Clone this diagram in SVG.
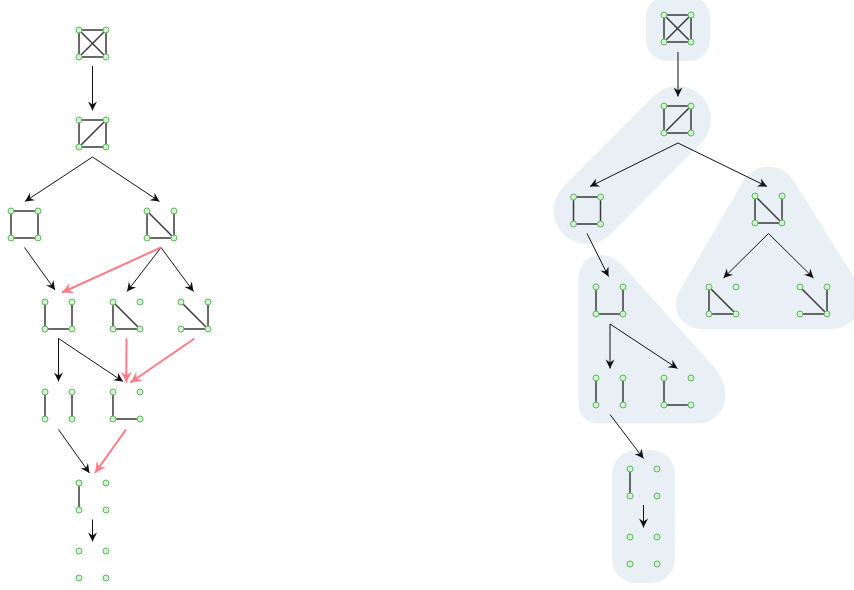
<svg xmlns="http://www.w3.org/2000/svg" width="854" height="590" viewBox="0 0 854 590">
<style>
.e{stroke:#3a3a3a;stroke-width:1.5;fill:none}
.v{fill:#d6f0d6;stroke:#5cb85c;stroke-width:1}
.a{stroke:#111;stroke-width:1;fill:none}
.r{stroke:#ff7b87;stroke-width:2;fill:none}
.blob{fill:#e9f0f5;stroke:none}
</style>
<defs>
<marker id="ab" viewBox="-10 -5 11 10" refX="0" refY="0" markerWidth="11" markerHeight="10" orient="auto" markerUnits="userSpaceOnUse">
<path d="M0,0 L-9,-4.5 L-6,0 L-9,4.5 Z" fill="#111"/>
</marker>
<marker id="ar" viewBox="-12 -6 13 12" refX="0" refY="0" markerWidth="13" markerHeight="12" orient="auto" markerUnits="userSpaceOnUse">
<path d="M0,0 L-11,-5.5 L-7,0 L-11,5.5 Z" fill="#ff7b87"/>
</marker>
<g id="vx">
<circle class="v" cx="0" cy="0" r="3"/>
<circle class="v" cx="27" cy="0" r="3"/>
<circle class="v" cx="0" cy="27" r="3"/>
<circle class="v" cx="27" cy="27" r="3"/>
</g>
</defs>

<g id="blobs">
<rect class="blob" x="646" y="-4" width="64" height="65" rx="21"/>
<line x1="677.5" y1="119.5" x2="587" y2="210.5" stroke="#e9f0f5" stroke-width="67" stroke-linecap="round"/>
<path class="blob" d="M743.8 180 C 755 162, 783 162, 794.6 182 L 857 282 C 866 300, 858 329, 832 329 L 703 329 C 678 329, 670 305, 680 290 Z"/>
<path class="blob" d="M578.3 280 C 578.3 262, 590 255, 600 255 C 610 255, 617 260, 625 268 L 714 367 C 728 383, 730 405, 715 417 C 710 421, 705 423.3, 698 423.3 L 598 423.3 C 586 423.3, 578.3 415, 578.3 403 Z"/>
<rect class="blob" x="612" y="450" width="63" height="133" rx="24"/>
</g>

<g id="connectors">
<line class="a" x1="92.5" y1="66" x2="92.5" y2="110.5" marker-end="url(#ab)"/>
<line class="a" x1="92.5" y1="157" x2="25" y2="201.5" marker-end="url(#ab)"/>
<line class="a" x1="92.5" y1="157" x2="159.5" y2="201.5" marker-end="url(#ab)"/>
<line class="a" x1="24.5" y1="247.5" x2="55" y2="290" marker-end="url(#ab)"/>
<line class="a" x1="161" y1="247.5" x2="127" y2="291.5" marker-end="url(#ab)"/>
<line class="a" x1="161" y1="247.5" x2="193.5" y2="291.5" marker-end="url(#ab)"/>
<line class="a" x1="58.5" y1="338.5" x2="58.5" y2="381.5" marker-end="url(#ab)"/>
<line class="a" x1="58.5" y1="338.5" x2="123" y2="381.5" marker-end="url(#ab)"/>
<line class="a" x1="58.5" y1="429.5" x2="89.5" y2="473" marker-end="url(#ab)"/>
<line class="a" x1="92.5" y1="519.5" x2="92.5" y2="541.5" marker-end="url(#ab)"/>
<line class="r" x1="161" y1="247.5" x2="62" y2="292.5" marker-end="url(#ar)"/>
<line class="r" x1="126.5" y1="338.5" x2="126.3" y2="382.5" marker-end="url(#ar)"/>
<line class="r" x1="194.5" y1="338.5" x2="130.5" y2="382.5" marker-end="url(#ar)"/>
<line class="r" x1="126" y1="429.5" x2="95" y2="473" marker-end="url(#ar)"/>

<line class="a" x1="678" y1="52" x2="678" y2="96.5" marker-end="url(#ab)"/>
<line class="a" x1="678" y1="143" x2="590" y2="186.5" marker-end="url(#ab)"/>
<line class="a" x1="678" y1="143" x2="767" y2="186.5" marker-end="url(#ab)"/>
<line class="a" x1="587" y1="233.5" x2="608.5" y2="276.5" marker-end="url(#ab)"/>
<line class="a" x1="768.5" y1="233.5" x2="723.5" y2="278" marker-end="url(#ab)"/>
<line class="a" x1="768.5" y1="233.5" x2="813.5" y2="278" marker-end="url(#ab)"/>
<line class="a" x1="610" y1="324" x2="610" y2="368.5" marker-end="url(#ab)"/>
<line class="a" x1="610" y1="324" x2="677.5" y2="368.5" marker-end="url(#ab)"/>
<line class="a" x1="610" y1="414.5" x2="643.5" y2="458.5" marker-end="url(#ab)"/>
<line class="a" x1="643.5" y1="505" x2="643.5" y2="527.5" marker-end="url(#ab)"/>
</g>

<g id="L1" transform="translate(79,30)"><path class="e" d="M0,0H27V27H0Z M0,0L27,27 M27,0L0,27"/><use href="#vx"/></g>
<g id="L2" transform="translate(79,120)"><path class="e" d="M0,0H27V27H0Z M0,27L27,0"/><use href="#vx"/></g>
<g id="L3" transform="translate(11,211)"><path class="e" d="M0,0H27V27H0Z"/><use href="#vx"/></g>
<g id="L4" transform="translate(147,211)"><path class="e" d="M0,0V27H27V0 M0,0L27,27"/><use href="#vx"/></g>
<g id="L5" transform="translate(45,302)"><path class="e" d="M0,0V27H27V0"/><use href="#vx"/></g>
<g id="L6" transform="translate(113,302)"><path class="e" d="M0,0V27H27Z"/><use href="#vx"/></g>
<g id="L7" transform="translate(181,302)"><path class="e" d="M0,0L27,27V0 M0,27H27"/><use href="#vx"/></g>
<g id="L8" transform="translate(45,392)"><path class="e" d="M0,0V27 M27,0V27"/><use href="#vx"/></g>
<g id="L9" transform="translate(113,392)"><path class="e" d="M0,0V27H27"/><use href="#vx"/></g>
<g id="L10" transform="translate(79,483)"><path class="e" d="M0,0V27"/><use href="#vx"/></g>
<g id="L11" transform="translate(79,551)"><use href="#vx"/></g>

<g id="R1" transform="translate(664,15)"><path class="e" d="M0,0H27V27H0Z M0,0L27,27 M27,0L0,27"/><use href="#vx"/></g>
<g id="R2" transform="translate(664,106)"><path class="e" d="M0,0H27V27H0Z M0,27L27,0"/><use href="#vx"/></g>
<g id="R3" transform="translate(573.5,197)"><path class="e" d="M0,0H27V27H0Z"/><use href="#vx"/></g>
<g id="R4" transform="translate(755,196)"><path class="e" d="M0,0V27H27V0 M0,0L27,27"/><use href="#vx"/></g>
<g id="R5" transform="translate(596,287)"><path class="e" d="M0,0V27H27V0"/><use href="#vx"/></g>
<g id="R6" transform="translate(709,287)"><path class="e" d="M0,0V27H27Z"/><use href="#vx"/></g>
<g id="R7" transform="translate(800,287)"><path class="e" d="M0,0L27,27V0 M0,27H27"/><use href="#vx"/></g>
<g id="R8" transform="translate(596,378)"><path class="e" d="M0,0V27 M27,0V27"/><use href="#vx"/></g>
<g id="R9" transform="translate(664,378)"><path class="e" d="M0,0V27H27"/><use href="#vx"/></g>
<g id="R10" transform="translate(630,469)"><path class="e" d="M0,0V27"/><use href="#vx"/></g>
<g id="R11" transform="translate(630,537)"><use href="#vx"/></g>
</svg>
